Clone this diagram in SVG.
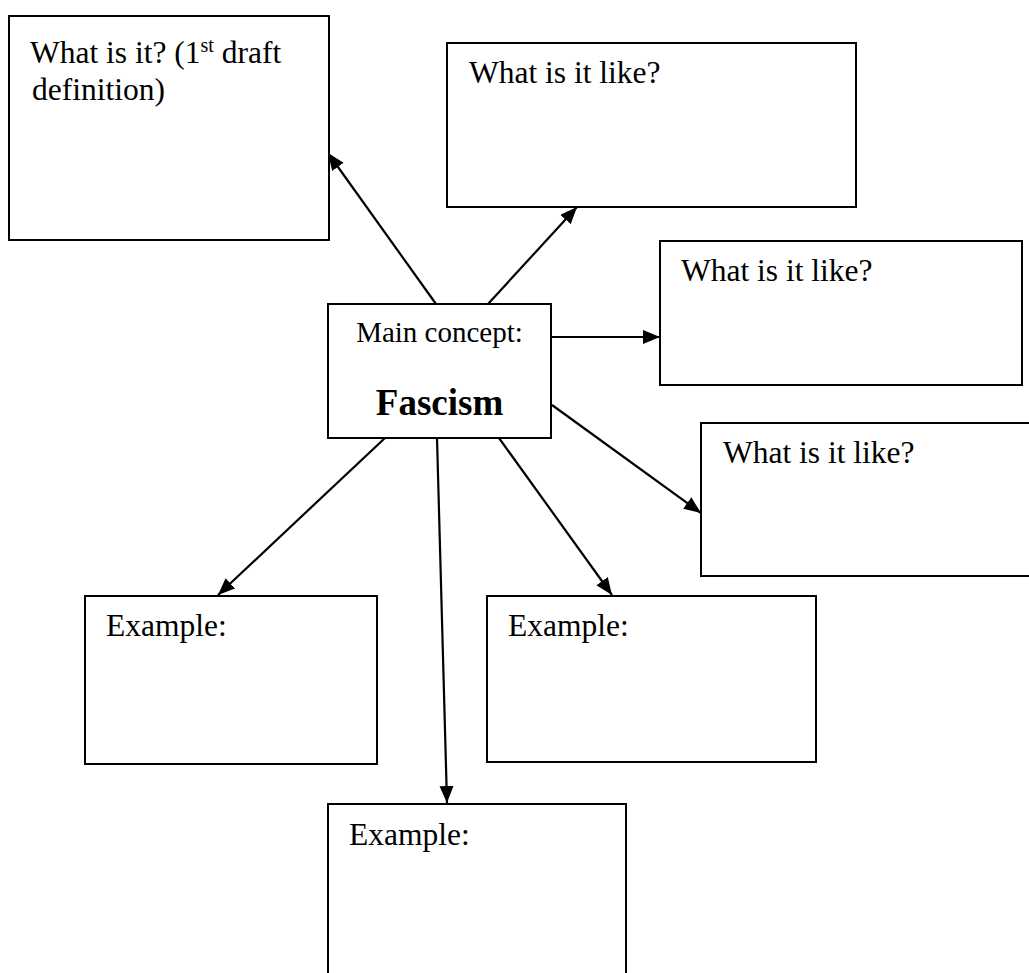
<svg xmlns="http://www.w3.org/2000/svg" width="1029" height="973" viewBox="0 0 1029 973">
<style>
.box{fill:#fff;stroke:#000;stroke-width:2}
.t{font-family:"Liberation Serif",serif;font-size:31.5px;fill:#000}
.m{font-size:29px}
.f{font-size:37px;font-weight:bold}
.sup{font-size:20px}
.c{stroke:#000;stroke-width:2.2;fill:none;marker-end:url(#ah)}
</style>
<defs>
<marker id="ah" markerUnits="userSpaceOnUse" markerWidth="20" markerHeight="16" refX="17" refY="7" orient="auto">
<path d="M0,0 L17,7 L0,14 Z" fill="#000"/>
</marker>
</defs>
<rect width="1029" height="973" fill="#fff"/>
<g id="connectors">
<line class="c" x1="436" y1="304" x2="328" y2="153"/>
<line class="c" x1="488" y1="304" x2="577" y2="207"/>
<line class="c" x1="552" y1="337" x2="660" y2="337"/>
<line class="c" x1="552" y1="405" x2="701" y2="513"/>
<line class="c" x1="385" y1="438" x2="218" y2="595"/>
<line class="c" x1="437" y1="438" x2="447" y2="803"/>
<line class="c" x1="499" y1="438" x2="612" y2="595"/>
</g>
<g id="definition">
<rect class="box" x="9" y="16" width="320" height="224"/>
<text class="t" x="30" y="63">What is it? (1<tspan class="sup" dy="-11">st</tspan><tspan dy="11"> draft</tspan></text>
<text class="t" x="32" y="100">definition)</text>
</g>
<g id="like1">
<rect class="box" x="447" y="43" width="409" height="164"/>
<text class="t" x="469" y="83">What is it like?</text>
</g>
<g id="like2">
<rect class="box" x="660" y="241" width="362" height="144"/>
<text class="t" x="681" y="281">What is it like?</text>
</g>
<g id="like3">
<rect class="box" x="701" y="423" width="340" height="153"/>
<text class="t" x="723" y="463">What is it like?</text>
</g>
<g id="main">
<rect class="box" x="328" y="304" width="223" height="134"/>
<text class="t m" x="439.5" y="342" text-anchor="middle">Main concept:</text>
<text class="t f" x="439.5" y="415" text-anchor="middle">Fascism</text>
</g>
<g id="example1">
<rect class="box" x="85" y="596" width="292" height="168"/>
<text class="t" x="106" y="636">Example:</text>
</g>
<g id="example2">
<rect class="box" x="487" y="596" width="329" height="166"/>
<text class="t" x="508" y="636">Example:</text>
</g>
<g id="example3">
<rect class="box" x="328" y="804" width="298" height="190"/>
<text class="t" x="349" y="845">Example:</text>
</g>
</svg>
